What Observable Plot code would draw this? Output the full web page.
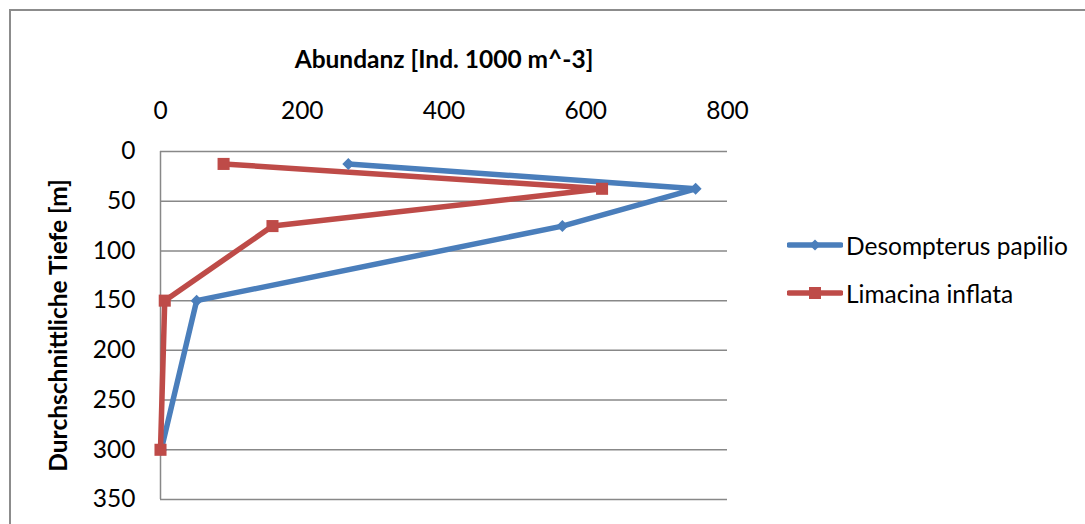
<!DOCTYPE html>
<html>
<head>
<meta charset="utf-8">
<script src="https://cdn.jsdelivr.net/npm/d3@7"></script>
<script src="https://cdn.jsdelivr.net/npm/@observablehq/plot@0.6"></script>
<style>
  html, body { margin: 0; padding: 0; background: #fff; overflow: hidden; }
  #wrap { position: relative; width: 1085px; height: 524px; overflow: hidden; font-family: Lato, "Open Sans", sans-serif; }
  #border { position: absolute; left: 9px; top: 9px; width: 1200px; height: 700px; border: 2px solid #8c8c8c; box-sizing: border-box; }
  #chart { position: absolute; left: 0; top: 0; }
  .leg { position: absolute; left: 787px; display: flex; align-items: center; font-size: 24.5px; color: #000; white-space: nowrap; }
  .leg svg { display: block; margin-right: 3px; }
</style>
</head>
<body>
<div id="wrap">
  <div id="border"></div>
  <div id="chart"></div>
  <div id="legend"></div>
</div>
<script>
const depths = [12.5, 37.5, 75, 150, 300];
const seriesNames = ["Desompterus papilio", "Limacina inflata"];
const desmopterus = [265, 755, 567, 51, 1];
const limacina = [89, 623, 158, 6, 0];
const xTicks = [0, 200, 400, 600, 800];
const yTicks = [0, 50, 100, 150, 200, 250, 300, 350];
const colors = ["#4A7EBB", "#BE4B48"];
const symbols = ["diamond2", "square"];

const data = [];
depths.forEach((d, i) => data.push({species: seriesNames[0], depth: d, value: desmopterus[i]}));
depths.forEach((d, i) => data.push({species: seriesNames[1], depth: d, value: limacina[i]}));

const FS = 24.5;
const chart = Plot.plot({
  width: 1085,
  height: 524,
  marginLeft: 160,
  marginRight: 358,
  marginTop: 151,
  marginBottom: 25,
  style: {fontFamily: "Lato, 'Open Sans', sans-serif", fontSize: FS + "px", color: "#000", background: "transparent"},
  x: {domain: [0, 800]},
  y: {domain: [0, 350], reverse: true},
  color: {domain: seriesNames, range: colors},
  symbol: {domain: seriesNames, range: symbols},
  marks: [
    Plot.gridY(yTicks, {stroke: "#888", strokeOpacity: 1, strokeWidth: 1.5}),
    Plot.ruleX([0], {stroke: "#888", strokeWidth: 1.5}),
    Plot.axisX(xTicks, {anchor: "top", tickSize: 0, tickPadding: 33, label: null, fontSize: FS}),
    Plot.axisY(yTicks, {anchor: "left", tickSize: 0, tickPadding: 25, label: null, fontSize: FS}),
    Plot.text(["Abundanz [Ind. 1000 m^-3]"], {frameAnchor: "top", dy: -101, fontWeight: "bold", fontSize: FS}),
    Plot.text(["Durchschnittliche Tiefe [m]"], {frameAnchor: "left", dx: -101, rotate: -90, textAnchor: "middle", fontWeight: "bold", fontSize: FS}),
    Plot.line(data, {x: "value", y: "depth", z: "species", stroke: "species", strokeWidth: 5.5, curve: "linear"}),
    Plot.dot(data, {filter: d => d.species === seriesNames[0], x: "value", y: "depth", symbol: "species", fill: "species", r: 5.4, stroke: null}),
    Plot.dot(data, {filter: d => d.species === seriesNames[1], x: "value", y: "depth", symbol: "species", fill: "species", r: 6.8, stroke: null})
  ]
});
document.getElementById("chart").appendChild(chart);

// Legend
const legend = document.getElementById("legend");
const legendY = [245, 293];
seriesNames.forEach((name, i) => {
  const row = document.createElement("div");
  row.className = "leg";
  row.style.top = (legendY[i] - 16) + "px";
  row.style.height = "32px";
  const svg = d3.create("svg").attr("width", 56).attr("height", 32);
  svg.append("line").attr("x1", 2).attr("x2", 54).attr("y1", 16).attr("y2", 16)
    .attr("stroke", colors[i]).attr("stroke-width", 5.5).attr("stroke-linecap", "round");
  svg.append("path").attr("transform", "translate(28,16)")
    .attr("d", d3.symbol(i === 0 ? d3.symbolDiamond2 : d3.symbolSquare, i === 0 ? 80 : 144)())
    .attr("fill", colors[i]);
  row.appendChild(svg.node());
  const span = document.createElement("span");
  span.textContent = name;
  row.appendChild(span);
  legend.appendChild(row);
});
</script>
</body>
</html>
